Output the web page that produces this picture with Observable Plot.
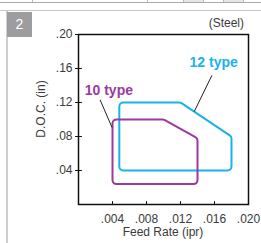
<!DOCTYPE html>
<html>
<head>
<meta charset="utf-8">
<script src="https://cdn.jsdelivr.net/npm/d3@7"></script>
<script src="https://cdn.jsdelivr.net/npm/@observablehq/plot@0.6"></script>
<style>
  html, body { margin: 0; padding: 0; background: #fff; }
  #wrap { position: relative; width: 261px; height: 243px; overflow: hidden; font-family: "Liberation Sans", Arial, sans-serif; color: #3a3a3a; }
  #wrap svg { position: absolute; left: 0; top: 0; }
  .abs { position: absolute; }
  .txt { position: absolute; font-size: 12px; white-space: nowrap; line-height: 1; }
</style>
</head>
<body>
<div id="wrap">
  <div class="abs" style="left:0;top:2px;width:261px;height:1px;background:#aaa"></div>
  <div class="abs" style="left:183px;top:0;width:20px;height:2px;background:#e6e6e6"></div>
  <div class="abs" style="left:223px;top:0;width:20px;height:2px;background:#e6e6e6"></div>
  <div class="abs" style="left:32px;top:0;width:1px;height:2px;background:#bbb"></div>
  <div class="abs" style="left:147px;top:0;width:1px;height:2px;background:#bbb"></div>
  <div class="abs" style="left:183px;top:0;width:1px;height:2px;background:#bbb"></div>
  <div class="abs" style="left:203px;top:0;width:1px;height:2px;background:#bbb"></div>
  <div class="abs" style="left:223px;top:0;width:1px;height:2px;background:#bbb"></div>
  <div class="abs" style="left:243px;top:0;width:1px;height:2px;background:#bbb"></div>
  <div class="abs" style="left:0;top:10px;width:261px;height:1px;background:#c8c8c8"></div>
  <div class="abs" style="left:6px;top:11px;width:2px;height:232px;background:#cfcfcf"></div>
  <div class="abs" style="left:7px;top:12px;width:25px;height:25px;background:#9d9d9f;color:#fff;font-size:14px;line-height:25px;text-align:center">2</div>
  <div class="txt" id="steel" style="right:17px;top:17px">(Steel)</div>
  <div class="txt" id="xlab" style="left:163px;top:226px;transform:translateX(-50%)">Feed Rate (ipr)</div>
  <div class="txt" id="ylab" style="left:40.5px;top:109px;transform:translate(-50%,-50%) rotate(-90deg)">D.O.C. (in)</div>
</div>
<script>
// Data
const feed12 = [0.0048, 0.0048, 0.012, 0.018, 0.018];
const doc12  = [0.04,   0.12,   0.12,  0.08,  0.04];
const feed10 = [0.004,  0.004,  0.010, 0.014, 0.014];
const doc10  = [0.024,  0.10,   0.10,  0.078, 0.024];
const seriesNames = ["12 type", "10 type"];
const seriesColors = ["#19b3ea", "#9a3a9e"];
const xTicks = [0.004, 0.008, 0.012, 0.016, 0.020];
const yTicks = [0.04, 0.08, 0.12, 0.16, 0.20];
const labelX = [0.0159, 0.00357];
const labelY = [0.167, 0.134];
const leaderFrom = [[0.0157, 0.152], [0.00254, 0.1232]];
const leaderTo = [[0.01362, 0.1094], [0.00395, 0.0905]];

const rows = [];
feed12.forEach((f, i) => rows.push({type: seriesNames[0], feed: f, doc: doc12[i]}));
feed10.forEach((f, i) => rows.push({type: seriesNames[1], feed: f, doc: doc10[i]}));
const labels = seriesNames.map((n, i) => ({type: n, x: labelX[i], y: labelY[i]}));
const leaders = seriesNames.map((n, i) => ({x1: leaderFrom[i][0], y1: leaderFrom[i][1], x2: leaderTo[i][0], y2: leaderTo[i][1]}));

function roundedClosed(r) {
  return function(context) {
    let pts = [];
    return {
      areaStart() {}, areaEnd() {},
      lineStart() { pts = []; },
      point(x, y) { pts.push([+x, +y]); },
      lineEnd() {
        const n = pts.length;
        if (n < 3) return;
        const a = pts[n - 1], b = pts[0];
        context.moveTo((a[0] + b[0]) / 2, (a[1] + b[1]) / 2);
        for (let i = 0; i < n; i++) {
          const p = pts[i], q = pts[(i + 1) % n];
          context.arcTo(p[0], p[1], q[0], q[1], r);
        }
        context.closePath();
      }
    };
  };
}
const tickShape = {draw(context, l) { context.moveTo(0, 0); context.lineTo(0, -l); }};

const fmtX = d => d.toFixed(3).replace(/^0/, "");
const fmtY = d => d.toFixed(2).replace(/^0/, "");

const chart = Plot.plot({
  width: 261,
  height: 243,
  marginLeft: 78,
  marginRight: 13,
  marginTop: 34,
  marginBottom: 39,
  style: {fontSize: "12px", fontFamily: "Liberation Sans, Arial, sans-serif", color: "#3a3a3a", background: "transparent", overflow: "visible"},
  x: {domain: [0, 0.02]},
  y: {domain: [0, 0.2]},
  color: {domain: seriesNames, range: seriesColors},
  marks: [
    Plot.line(rows, {x: "feed", y: "doc", z: "type", stroke: "type", strokeWidth: 2, curve: roundedClosed(4)}),
    Plot.link(leaders, {x1: "x1", y1: "y1", x2: "x2", y2: "y2", stroke: "#222", strokeWidth: 1}),
    Plot.text(labels, {x: "x", y: "y", text: "type", fill: "type", fontWeight: "bold", fontSize: 14}),
    Plot.axisX(xTicks, {tickSize: 0, tickPadding: 10, tickFormat: fmtX, label: null}),
    Plot.vector(xTicks, {x: d => d, frameAnchor: "bottom", length: 3, anchor: "start", shape: tickShape, stroke: "#111", strokeWidth: 1}),
    Plot.axisY(yTicks, {tickSize: 0, tickPadding: 6, tickFormat: fmtY, label: null}),
    Plot.vector(yTicks, {y: d => d, frameAnchor: "left", length: 6, rotate: 90, anchor: "middle", shape: tickShape, stroke: "#111", strokeWidth: 1}),
    Plot.frame({stroke: "#111", strokeWidth: 1.5})
  ]
});
document.getElementById("wrap").appendChild(chart);
</script>
</body>
</html>
